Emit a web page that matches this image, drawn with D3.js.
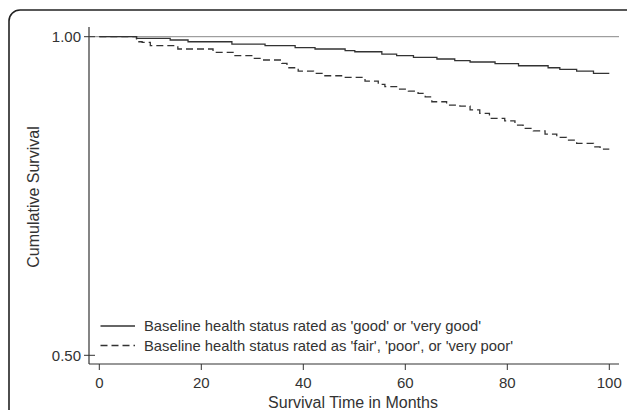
<!DOCTYPE html>
<html>
<head>
<meta charset="utf-8">
<script src="https://cdn.jsdelivr.net/npm/d3@7"></script>
<style>
  body { margin: 0; background: #fff; }
  svg text { font-family: Arial, "Liberation Sans", sans-serif; fill: #333; }
</style>
</head>
<body>
<div id="chart"></div>
<script>
// --- Data ---
const goodTimes = [0, 7.3, 13.9, 17.4, 26, 32.5, 38.4, 42.3, 48.2, 50.1, 55.4, 58.3, 61.6, 66.2, 69.7, 72.7, 77.6, 82.2, 88, 90.3, 93.6, 96.9, 100];
const goodSurv  = [1, 0.9975, 0.9948, 0.9921, 0.9885, 0.9859, 0.9827, 0.9807, 0.978, 0.9764, 0.9728, 0.9702, 0.9676, 0.965, 0.9623, 0.9603, 0.9576, 0.9544, 0.9513, 0.9488, 0.9461, 0.9425, 0.9425];

const poorTimes = [0, 7.3, 8.4, 10, 15.4, 22.3, 26.6, 29.9, 32, 35.8, 36.8, 39, 42, 44, 47.8, 52.1, 54.7, 56, 58.3, 60.6, 62.5, 63.9, 65.2, 68.1, 70.7, 72.7, 74.6, 76.5, 79.5, 81.5, 83.1, 85.1, 87.4, 89.7, 91.6, 93.6, 96.9, 98.2, 100];
const poorSurv  = [1, 0.9921, 0.9912, 0.9859, 0.9807, 0.9755, 0.9702, 0.9661, 0.9634, 0.9582, 0.9513, 0.9461, 0.9425, 0.9387, 0.9362, 0.9304, 0.9252, 0.9215, 0.9178, 0.9147, 0.9111, 0.9057, 0.8979, 0.8927, 0.8911, 0.8851, 0.8797, 0.8718, 0.868, 0.8613, 0.8561, 0.8523, 0.8472, 0.842, 0.8377, 0.8325, 0.8272, 0.8236, 0.8236];

const xTicks = [0, 20, 40, 60, 80, 100];
const yTicks = [0.5, 1.0];
const legendLabels = [
  "Baseline health status rated as 'good' or 'very good'",
  "Baseline health status rated as 'fair', 'poor', or 'very poor'"
];

// --- Setup ---
const width = 627, height = 410;
const axisLeft = 89, axisBottom = 364, axisRight = 619, axisTop = 27;

const svg = d3.select("#chart").append("svg")
  .attr("width", width)
  .attr("height", height);

// Rounded frame, running off the right and bottom edges
svg.append("rect")
  .attr("x", 9).attr("y", 10)
  .attr("width", 640).attr("height", 420)
  .attr("rx", 11)
  .attr("fill", "none")
  .attr("stroke", "#222")
  .attr("stroke-width", 1.6);

const x = d3.scaleLinear().domain([0, 100]).range([99.3, 609.3]);
const y = d3.scaleLinear().domain([0.5, 1.0]).range([355.3, 36.7]);

// Axes lines
svg.append("line")
  .attr("x1", axisLeft).attr("x2", axisLeft)
  .attr("y1", axisTop).attr("y2", axisBottom)
  .attr("stroke", "#333").attr("stroke-width", 1.2);
svg.append("line")
  .attr("x1", axisLeft).attr("x2", axisRight)
  .attr("y1", axisBottom).attr("y2", axisBottom)
  .attr("stroke", "#333").attr("stroke-width", 1.2);

// Reference line at 1.00
svg.append("line")
  .attr("x1", axisLeft).attr("x2", axisRight)
  .attr("y1", y(1)).attr("y2", y(1))
  .attr("stroke", "#888").attr("stroke-width", 1);

// X ticks
xTicks.forEach(t => {
  svg.append("line")
    .attr("x1", x(t)).attr("x2", x(t))
    .attr("y1", axisBottom).attr("y2", axisBottom + 6)
    .attr("stroke", "#333");
  svg.append("text")
    .attr("x", x(t)).attr("y", 382)
    .attr("text-anchor", "middle")
    .attr("dominant-baseline", "central")
    .attr("font-size", "15px")
    .text(t);
});

// Y ticks
yTicks.forEach(t => {
  svg.append("line")
    .attr("x1", axisLeft - 5).attr("x2", axisLeft + 6)
    .attr("y1", y(t)).attr("y2", y(t))
    .attr("stroke", "#333");
  svg.append("text")
    .attr("x", 81).attr("y", y(t))
    .attr("text-anchor", "end")
    .attr("dominant-baseline", "central")
    .attr("font-size", "15px")
    .text(d3.format(".2f")(t));
});

// Axis titles
svg.append("text")
  .attr("x", 353).attr("y", 402)
  .attr("text-anchor", "middle")
  .attr("dominant-baseline", "central")
  .attr("font-size", "16px")
  .text("Survival Time in Months");

svg.append("text")
  .attr("transform", "translate(33,197) rotate(-90)")
  .attr("text-anchor", "middle")
  .attr("dominant-baseline", "central")
  .attr("font-size", "16px")
  .text("Cumulative Survival");

// Survival curves
const line = d3.line()
  .x(d => x(d[0]))
  .y(d => y(d[1]))
  .curve(d3.curveStepAfter);

svg.append("path")
  .datum(d3.zip(goodTimes, goodSurv))
  .attr("d", line)
  .attr("fill", "none")
  .attr("stroke", "#333")
  .attr("stroke-width", 1.3);

svg.append("path")
  .datum(d3.zip(poorTimes, poorSurv))
  .attr("d", line)
  .attr("fill", "none")
  .attr("stroke", "#333")
  .attr("stroke-width", 1.3)
  .attr("stroke-dasharray", "7,4");

// Legend
const legendY = [326, 345.5];
const dashes = [null, "7,4"];
legendLabels.forEach((label, i) => {
  svg.append("line")
    .attr("x1", 100.5).attr("x2", 135)
    .attr("y1", legendY[i]).attr("y2", legendY[i])
    .attr("stroke", "#333").attr("stroke-width", 1.3)
    .attr("stroke-dasharray", dashes[i]);
  svg.append("text")
    .attr("x", 144).attr("y", legendY[i])
    .attr("dominant-baseline", "central")
    .attr("font-size", "14.8px")
    .text(label);
});
</script>
</body>
</html>
